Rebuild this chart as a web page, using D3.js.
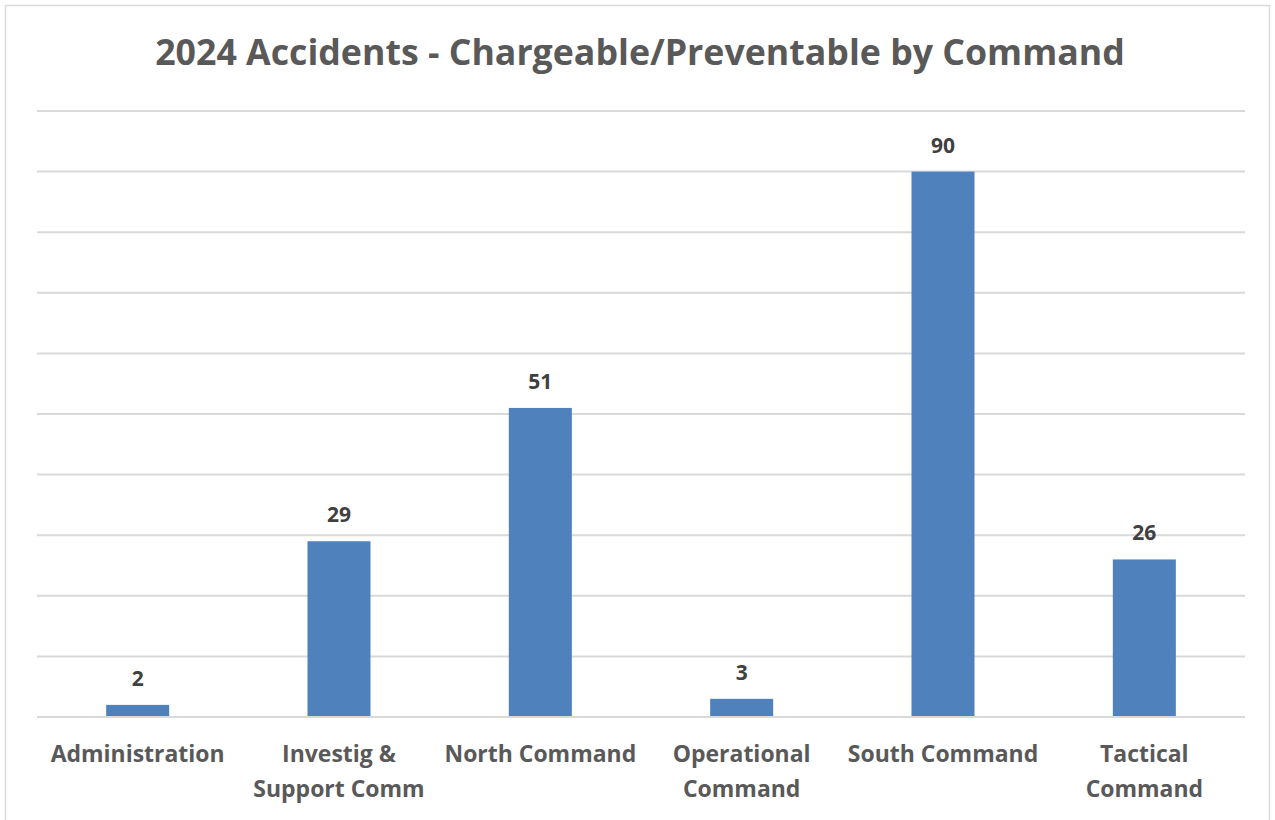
<!DOCTYPE html>
<html><head><meta charset="utf-8">
<script src="https://cdn.jsdelivr.net/npm/d3@7"></script>
<style>body{margin:0;background:#fff}svg{display:block}</style>
</head><body>
<svg id="c" width="1275" height="820"></svg>
<script>
const title = "2024 Accidents - Chargeable/Preventable by Command";
const categories = ["Administration", "Investig & Support Comm", "North Command", "Operational Command", "South Command", "Tactical Command"];
const categoryLines = [["Administration"], ["Investig &", "Support Comm"], ["North Command"], ["Operational", "Command"], ["South Command"], ["Tactical", "Command"]];
const values = [2, 29, 51, 3, 90, 26];
const yTicks = [0, 10, 20, 30, 40, 50, 60, 70, 80, 90, 100];

const svg = d3.select("#c");
const font = "'Open Sans', 'Liberation Sans', sans-serif";
svg.append("rect").attr("x", 5.5).attr("y", 5.5).attr("width", 1264).attr("height", 830)
  .attr("fill", "#fff").attr("stroke", "#d9d9d9").attr("stroke-width", 1.5);

const x = d3.scaleBand().domain(categories).range([37, 1245]).paddingInner(0.687).paddingOuter(0.3435);
const y = d3.scaleLinear().domain([0, 100]).range([717, 111]);

// gridlines
svg.append("g").selectAll("line").data(yTicks).join("line")
  .attr("x1", 37).attr("x2", 1245)
  .attr("y1", d => y(d)).attr("y2", d => y(d))
  .attr("stroke", "#d9d9d9").attr("stroke-width", 2);

// bars
svg.append("g").selectAll("rect").data(values).join("rect")
  .attr("x", (d, i) => x(categories[i]))
  .attr("width", x.bandwidth())
  .attr("y", d => y(d))
  .attr("height", d => y(0) - y(d) - 1)
  .attr("fill", "#4f81bd");

// data labels
svg.append("g").selectAll("text").data(values).join("text")
  .attr("x", (d, i) => x(categories[i]) + x.bandwidth() / 2)
  .attr("y", d => y(d) - 19)
  .attr("text-anchor", "middle")
  .attr("font-family", font).attr("font-weight", "bold").attr("font-size", 21)
  .attr("fill", "#404040")
  .text(d => d);

// category labels
const cl = svg.append("g");
let labelSize = 21;
categories.forEach((c, i) => {
  const t = cl.append("text")
    .attr("x", x(c) + x.bandwidth() / 2)
    .attr("y", 762)
    .attr("text-anchor", "middle")
    .attr("font-family", font).attr("font-weight", "bold").attr("font-size", labelSize)
    .attr("fill", "#595959");
  categoryLines[i].forEach((ln, j) => {
    t.append("tspan").attr("x", x(c) + x.bandwidth() / 2).attr("dy", j === 0 ? 0 : 35).text(ln);
  });
});
// fit label size so "Administration" spans about 174px as in reference
const firstLen = cl.select("text").node().getComputedTextLength();
cl.selectAll("text").attr("font-size", labelSize * 174 / firstLen);

// title
const tt = svg.append("text").attr("x", 640).attr("y", 65)
  .attr("text-anchor", "middle")
  .attr("font-family", font).attr("font-weight", "bold").attr("font-size", 33)
  .attr("fill", "#595959").text(title);
const w = tt.node().getComputedTextLength();
tt.attr("font-size", 33 * 970 / w);
</script>
</body></html>
